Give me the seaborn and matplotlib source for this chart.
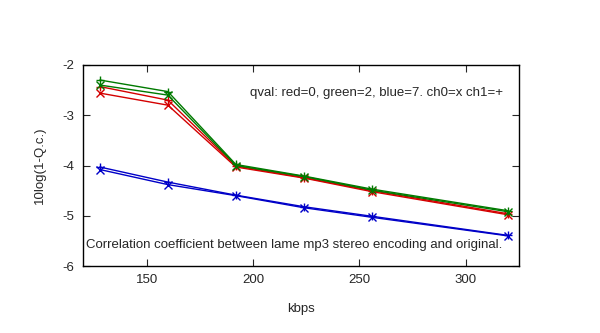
import matplotlib
matplotlib.use("Agg")
import matplotlib.pyplot as plt
import seaborn as sns
import pandas as pd

kbps = [128, 160, 192, 224, 256, 320]

red_ch0 = [-2.56, -2.80, -4.03, -4.25, -4.52, -4.98]
red_ch1 = [-2.43, -2.70, -4.01, -4.24, -4.50, -4.96]
green_ch0 = [-2.40, -2.60, -4.00, -4.22, -4.49, -4.92]
green_ch1 = [-2.30, -2.53, -3.98, -4.21, -4.47, -4.90]
blue_ch0 = [-4.08, -4.38, -4.60, -4.84, -5.03, -5.40]
blue_ch1 = [-4.03, -4.33, -4.59, -4.82, -5.01, -5.39]

x_ticks = [150, 200, 250, 300]
y_ticks = [-6, -5, -4, -3, -2]

series = [
    (red_ch0, "#d40000", "x"),
    (red_ch1, "#d40000", "+"),
    (green_ch0, "#007a00", "x"),
    (green_ch1, "#007a00", "+"),
    (blue_ch0, "#0000c8", "x"),
    (blue_ch1, "#0000c8", "+"),
]

sns.set_style("white")
plt.rcParams["font.family"] = ["Liberation Sans", "DejaVu Sans"]

fig = plt.figure(figsize=(6, 3.33), dpi=100)
ax = fig.add_axes([0.138, 0.201, 0.7265, 0.604])

for vals, col, mk in series:
    df = pd.DataFrame({"kbps": kbps, "v": vals})
    sns.lineplot(data=df, x="kbps", y="v", ax=ax, color=col, marker=mk,
                 markersize=5.5, markeredgewidth=1.0, linewidth=1.0,
                 markeredgecolor=col, legend=False)

ax.set_xlim(120, 325)
ax.set_ylim(-6, -2)
ax.set_xticks(x_ticks)
ax.set_yticks(y_ticks)
ax.set_xticklabels([str(t) for t in x_ticks], fontsize=9.5)
ax.set_yticklabels([str(t) for t in y_ticks], fontsize=9.5)
ax.tick_params(direction="in", length=5, width=0.8, top=True, right=True,
               bottom=True, left=True, pad=6)
for s in ax.spines.values():
    s.set_color("black")
    s.set_linewidth(1.0)

ax.set_xlabel("kbps", fontsize=9.5, labelpad=12)
ax.set_ylabel("10log(1-Q.c.)", fontsize=9.5, labelpad=12)

ax.text(317.5, -2.56, "qval: red=0, green=2, blue=7. ch0=x ch1=+",
        ha="right", va="center", fontsize=9.5)
ax.text(121.3, -5.58, "Correlation coefficient between lame mp3 stereo encoding and original.",
        ha="left", va="center", fontsize=9.5)

fig.savefig("out.png", dpi=100)
